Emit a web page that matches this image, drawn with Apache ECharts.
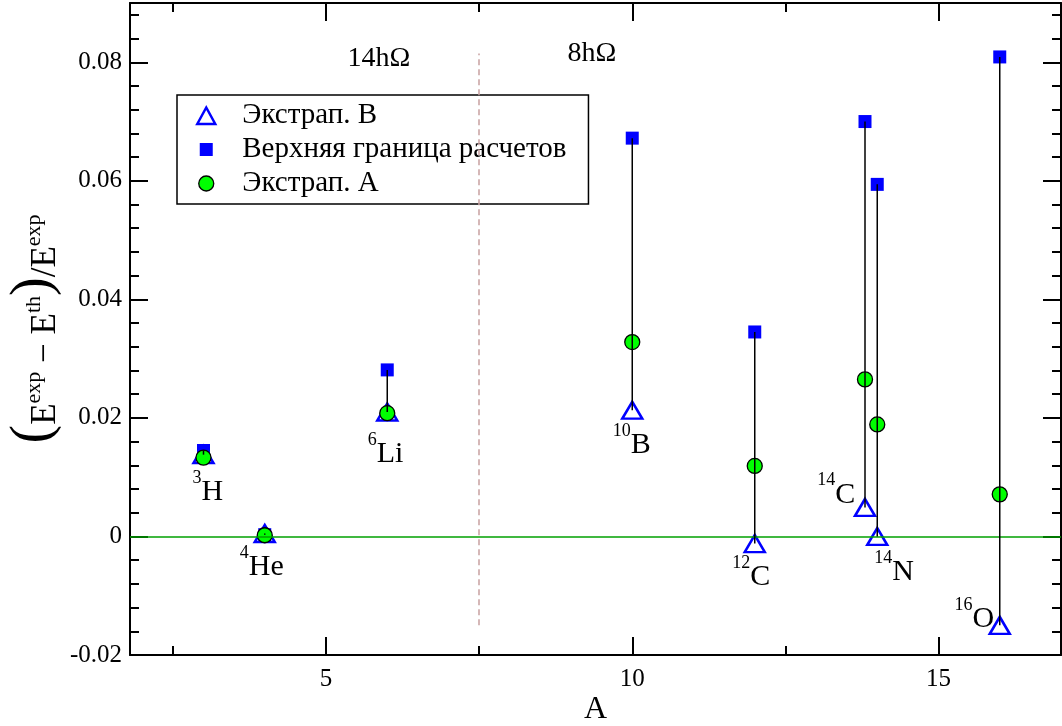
<!DOCTYPE html>
<html><head><meta charset="utf-8">
<script src="https://cdn.jsdelivr.net/npm/echarts@6/dist/echarts.min.js"></script>
<style>html,body{margin:0;padding:0;background:#fff}#c{width:1062px;height:726px}</style>
</head><body><div id="c"></div>
<script>
// ---- data ----
const nucleusA      = [3, 4, 6, 10, 12, 13.8, 14, 16];
const upperBound    = [0.0145, 0.0003, 0.0281, 0.0672, 0.0345, 0.0700, 0.0594, 0.0809];
const extrapA       = [0.0133, 0.0002, 0.0208, 0.0328, 0.0119, 0.0265, 0.0189, 0.0071];
const extrapB       = [0.0138, 0.0005, 0.0210, 0.0213, -0.0012, 0.0049, 0.0000, -0.0150];
const nucleusMass   = ['3', '4', '6', '10', '12', '14', '14', '16'];
const nucleusSymbol = ['H', 'He', 'Li', 'B', 'C', 'C', 'N', 'O'];
const labelAnchorA  = [2.83, 3.60, 5.69, 9.69, 11.64, 13.03, 13.96, 15.27];
const labelAnchorV  = [0.0061, -0.0066, 0.0125, 0.0140, -0.0083, 0.0056, -0.0074, -0.0154];
const regionText    = ['14hΩ', '8hΩ'];
const regionA       = [5.36, 8.95];
const regionV       = [0.0790, 0.0798];
const dividerA      = 7.5;
const dividerRange  = [-0.015, 0.0815];
const zeroLevel     = 0;
const xTicks        = [5, 10, 15];
const xMinorTicks   = [2.5, 7.5, 12.5];
const yTicks        = [-0.02, 0, 0.02, 0.04, 0.06, 0.08];
const yMinorTicks   = [-0.016, -0.012, -0.008, -0.004, 0.004, 0.008, 0.012, 0.016,
                       0.024, 0.028, 0.032, 0.036, 0.044, 0.048, 0.052, 0.056,
                       0.064, 0.068, 0.072, 0.076, 0.084, 0.088];
const xRange = [1.8, 17];
const yRange = [-0.02, 0.09];
const seriesNames = ['Экстрап. B', 'Верхняя граница расчетов', 'Экстрап. A'];

// ---- chart ----
const SERIF = "'Liberation Serif', 'Times New Roman', serif";
const chart = echarts.init(document.getElementById('c'));

function xAx(pos, ticks, len, major) {
  return {
    type: 'value', min: xRange[0], max: xRange[1], position: pos,
    axisLine: { show: major, onZero: false, lineStyle: { color: '#000', width: 2 } },
    axisTick: { show: true, inside: true, length: len, customValues: ticks, lineStyle: { color: '#000', width: 2 } },
    axisLabel: { show: false },
    splitLine: { show: false }
  };
}
function yAx(pos, ticks, len, major) {
  return {
    type: 'value', min: yRange[0], max: yRange[1], position: pos,
    axisLine: { show: major, onZero: false, lineStyle: { color: '#000', width: 2 } },
    axisTick: { show: true, inside: true, length: len, customValues: ticks, lineStyle: { color: '#000', width: 2 } },
    axisLabel: { show: false },
    splitLine: { show: false }
  };
}
const xMain = xAx('bottom', xTicks, 18, true);
xMain.axisLabel = { show: true, customValues: xTicks, fontSize: 25, fontFamily: SERIF, color: '#000', margin: 12 };
xMain.name = 'A';
xMain.nameLocation = 'middle';
xMain.nameGap = 39;
xMain.nameMoveOverlap = false;
xMain.nameTextStyle = { fontSize: 32, fontFamily: SERIF, color: '#000' };

const yMain = yAx('left', yTicks, 18, true);
yMain.axisLabel = { show: true, customValues: yTicks, fontSize: 25, fontFamily: SERIF, color: '#000', margin: 8,
  formatter: v => String(v) };
yMain.name = '{p|(}{E|E}{s|exp}{o| − }{E|E}{s|th}{p|)}{E|/E}{s|exp}';
yMain.nameLocation = 'middle';
yMain.nameRotate = 90;
yMain.nameGap = 67;
yMain.nameMoveOverlap = false;
yMain.nameTextStyle = {
  fontFamily: SERIF, color: '#000',
  rich: {
    p: { fontSize: 56, lineHeight: 58, fontFamily: SERIF, color: '#000' },
    E: { fontSize: 35, lineHeight: 35, verticalAlign: 'bottom', fontFamily: SERIF, color: '#000' },
    s: { fontSize: 22, lineHeight: 22, fontFamily: SERIF, color: '#000' },
    o: { fontSize: 35, lineHeight: 35, verticalAlign: 'bottom', fontFamily: SERIF, color: '#000' }
  }
};

const labelRich = {
  s: { fontSize: 18, lineHeight: 18, verticalAlign: 'top', fontFamily: SERIF, color: '#000' },
  m: { fontSize: 30, lineHeight: 38, verticalAlign: 'bottom', fontFamily: SERIF, color: '#000' },
  r: { fontSize: 28, lineHeight: 50, verticalAlign: 'bottom', fontFamily: SERIF, color: '#000' }
};

const option = {
  animation: false,
  backgroundColor: '#fff',
  grid: { left: 130, right: 1, top: 3, bottom: 71, containLabel: false, outerBoundsMode: 'none' },
  xAxis: [xMain, xAx('bottom', xMinorTicks, 9, false), xAx('top', xTicks, 18, true), xAx('top', xMinorTicks, 9, false)],
  yAxis: [yMain, yAx('left', yMinorTicks, 9, false), yAx('right', yTicks, 18, true), yAx('right', yMinorTicks, 9, false)],
  legend: {
    orient: 'vertical', left: 177, top: 95,
    padding: [6, 22, 6, 18],
    itemWidth: 20, itemHeight: 20, itemGap: 5,
    borderColor: '#000', borderWidth: 1.5, borderRadius: 0,
    backgroundColor: 'rgba(0,0,0,0)',
    selectedMode: false,
    textStyle: { fontSize: 29, fontFamily: SERIF, color: '#000', padding: [0, 0, 0, 21] },
    data: [
      { name: seriesNames[0], icon: 'path://M0,0M20,20M1,18.5L10,2L19,18.5Z',
        itemStyle: { color: 'rgba(0,0,0,0)', borderColor: '#0000ff', borderWidth: 2.5, opacity: 1 } },
      { name: seriesNames[1], icon: 'path://M0,0M20,20M3.5,3.5L16.5,3.5L16.5,16.5L3.5,16.5Z',
        itemStyle: { color: '#0000ff', borderWidth: 0, opacity: 1 } },
      { name: seriesNames[2], icon: 'path://M0,0M20,20M17.5,10A7.5,7.5,0,1,1,2.5,10A7.5,7.5,0,1,1,17.5,10Z',
        itemStyle: { color: '#00ff00', borderColor: '#000', borderWidth: 1.3, opacity: 1 } }
    ]
  },
  series: [
    {
      name: seriesNames[1], type: 'scatter', z: 2, silent: true,
      symbol: 'rect', symbolSize: 13,
      itemStyle: { color: '#0000ff', opacity: 1 },
      data: nucleusA.map((a, i) => [a, upperBound[i]]),
      markLine: {
        silent: true, symbol: ['none', 'none'], label: { show: false }, animation: false,
        data: [
          [{ coord: [xRange[0], zeroLevel], lineStyle: { color: '#00a000', width: 1.5, type: 'solid', opacity: 1 } },
           { coord: [xRange[1], zeroLevel], lineStyle: { color: '#00a000', width: 1.5, type: 'solid', opacity: 1 } }],
          [{ coord: [dividerA, dividerRange[0]], lineStyle: { color: '#c8a0a0', width: 1.5, type: [6, 4], opacity: 1 } },
           { coord: [dividerA, dividerRange[1]], lineStyle: { color: '#c8a0a0', width: 1.5, type: [6, 4], opacity: 1 } }]
        ]
      }
    },
    {
      name: seriesNames[0], type: 'scatter', z: 3, silent: true,
      symbol: 'triangle', symbolSize: [20, 17],
      itemStyle: { color: 'rgba(0,0,0,0)', borderColor: '#0000ff', borderWidth: 2.5, opacity: 1 },
      data: nucleusA.map((a, i) => [a, extrapB[i]])
    },
    {
      name: seriesNames[2], type: 'scatter', z: 4, silent: true,
      symbol: 'circle', symbolSize: 15,
      itemStyle: { color: '#00ff00', borderColor: '#000', borderWidth: 1.3, opacity: 1 },
      data: nucleusA.map((a, i) => [a, extrapA[i]])
    },
    {
      name: 'segments', type: 'custom', z: 6, silent: true,
      renderItem: (params, api) => {
        const x = api.value(0);
        const p1 = api.coord([x, api.value(1)]);
        const p2 = api.coord([x, api.value(2)]);
        return { type: 'line', shape: { x1: p1[0], y1: p1[1], x2: p2[0], y2: p2[1] },
                 style: { stroke: '#000', lineWidth: 1.5 } };
      },
      encode: { x: 0, y: [1, 2] },
      data: nucleusA.map((a, i) => [a, upperBound[i], extrapB[i]])
    },
    {
      name: 'nuclides', type: 'scatter', z: 7, silent: true,
      symbolSize: 1, itemStyle: { color: 'rgba(0,0,0,0)', opacity: 1 },
      label: {
        show: true, position: [0, 0], align: 'left', verticalAlign: 'top', offset: [0, -31],
        color: '#000', textBorderWidth: 0,
        formatter: p => `{s|${nucleusMass[p.dataIndex]}}{m|${nucleusSymbol[p.dataIndex]}}`,
        rich: labelRich
      },
      data: labelAnchorA.map((a, i) => [a, labelAnchorV[i]])
    },
    {
      name: 'regions', type: 'scatter', z: 7, silent: true,
      symbolSize: 1, itemStyle: { color: 'rgba(0,0,0,0)', opacity: 1 },
      label: {
        show: true, position: [0, 0], align: 'left', verticalAlign: 'top', offset: [0, -45],
        color: '#000', textBorderWidth: 0,
        formatter: p => `{r|${regionText[p.dataIndex]}}`,
        rich: labelRich
      },
      data: regionA.map((a, i) => [a, regionV[i]])
    }
  ]
};
chart.setOption(option);
</script>
</body></html>
